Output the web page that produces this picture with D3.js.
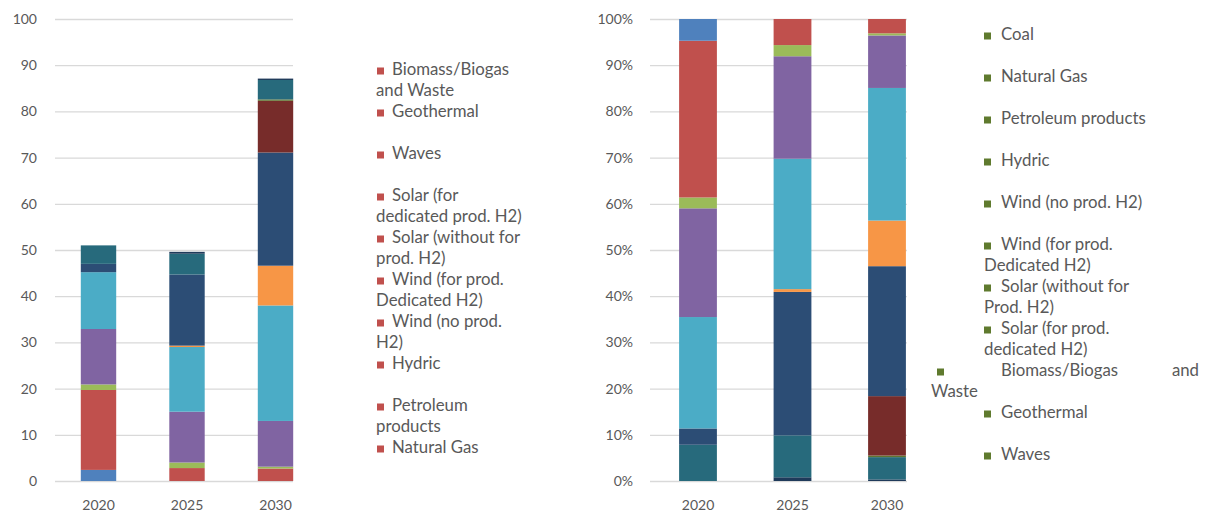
<!DOCTYPE html>
<html>
<head>
<meta charset="utf-8">
<script src="https://cdn.jsdelivr.net/npm/d3@7"></script>
<style>
  html, body { margin: 0; padding: 0; background: #ffffff; }
  svg { display: block; }
  .tick text { fill: #595959; font-family: Lato, "Open Sans", sans-serif; font-size: 14px; }
  .legend text { fill: #595959; font-family: Lato, "Liberation Sans", sans-serif; font-size: 16.8px; }
</style>
</head>
<body>
<svg id="chart" width="1211" height="513"></svg>
<script>
// Years on the horizontal axis
const years = ["2020", "2025", "2030"];

// Electricity generation by source (same units for every series)
const coal            = [2.4, 0.0, 0.0];
const naturalGas      = [17.3, 2.8, 2.7];
const petroleum       = [1.2, 1.2, 0.4];
const hydric          = [12.0, 11.0, 9.9];
const windNoH2        = [12.3, 14.0, 25.0];
const windForH2       = [0.0, 0.3, 8.6];
const solarWithoutH2  = [1.8, 15.4, 24.5];
const solarForH2      = [0.0, 0.0, 11.2];
const biomass         = [0.0, 0.0, 0.3];
const geothermal      = [4.0, 4.5, 4.2];
const waves           = [0.0, 0.4, 0.3];

// Series in stacking order (bottom to top on the absolute chart)
const seriesKeys = ["Coal", "Natural Gas", "Petroleum products", "Hydric",
  "Wind (no prod. H2)", "Wind (for prod. Dedicated H2)", "Solar (without for prod. H2)",
  "Solar (for dedicated prod. H2)", "Biomass/Biogas and Waste", "Geothermal", "Waves"];
const seriesValues = [coal, naturalGas, petroleum, hydric, windNoH2, windForH2,
  solarWithoutH2, solarForH2, biomass, geothermal, waves];
const seriesColors = ["#4f81bd", "#c0504d", "#9bbb59", "#8064a2", "#4bacc6", "#f79646",
  "#2c4d75", "#772c2a", "#5f7530", "#276a7c", "#1f3a5a"];

// Axis ticks
const absTicks = [0, 10, 20, 30, 40, 50, 60, 70, 80, 90, 100];
const pctTicks = [0, 0.1, 0.2, 0.3, 0.4, 0.5, 0.6, 0.7, 0.8, 0.9, 1.0];

// Legend entries (text lines per entry)
const leftLegend = [
  ["Biomass/Biogas", "and Waste"],
  ["Geothermal"],
  ["Waves"],
  ["Solar (for", "dedicated prod. H2)"],
  ["Solar (without for", "prod. H2)"],
  ["Wind (for prod.", "Dedicated H2)"],
  ["Wind (no prod.", "H2)"],
  ["Hydric"],
  ["Petroleum", "products"],
  ["Natural Gas"]
];
const rightLegend = [
  ["Coal"],
  ["Natural Gas"],
  ["Petroleum products"],
  ["Hydric"],
  ["Wind (no prod. H2)"],
  ["Wind (for prod.", "Dedicated H2)"],
  ["Solar (without for", "Prod. H2)"],
  ["Solar (for prod.", "dedicated H2)"],
  ["Biomass/Biogas", "Waste"],
  ["Geothermal"],
  ["Waves"]
];

const rows = years.map((y, i) => {
  const r = { year: y };
  seriesKeys.forEach((k, j) => { r[k] = seriesValues[j][i]; });
  return r;
});
const color = d3.scaleOrdinal().domain(seriesKeys).range(seriesColors);

const svg = d3.select("#chart");
const plotTop = 19, plotBottom = 481;

function drawChart(opts) {
  const g = svg.append("g");
  const x = d3.scaleBand().domain(years).range([opts.x0, opts.x1]).paddingInner(0.6).paddingOuter(0.3);
  const y = d3.scaleLinear().domain([0, opts.max]).range([plotBottom, plotTop]);

  // gridlines + value labels
  const yAxis = d3.axisLeft(y).tickValues(opts.ticks)
    .tickSizeInner(-(opts.gx1 - opts.gx0)).tickSizeOuter(0)
    .tickPadding(opts.pad).tickFormat(opts.fmt);
  const ya = g.append("g").attr("transform", `translate(${opts.gx0},0)`).call(yAxis);
  ya.select(".domain").remove();
  ya.selectAll(".tick line").attr("stroke", "#d9d9d9").attr("stroke-width", 1.3);

  // stacked bars
  const stack = d3.stack().keys(opts.keys).offset(opts.offset);
  const layers = stack(rows);
  g.selectAll("g.layer").data(layers).join("g")
    .attr("class", "layer")
    .attr("fill", d => color(d.key))
    .selectAll("rect").data(d => d).join("rect")
    .attr("x", d => x(d.data.year))
    .attr("width", x.bandwidth())
    .attr("y", d => y(d[1]))
    .attr("height", d => Math.max(0, y(d[0]) - y(d[1])));

  // category labels
  const xa = g.append("g").attr("transform", `translate(0,${plotBottom})`)
    .call(d3.axisBottom(x).tickSize(0).tickPadding(19));
  xa.select(".domain").remove();
}

// absolute stacked chart
drawChart({
  x0: 54.25, x1: 319.75, gx0: 55, gx1: 293, max: 100, ticks: absTicks,
  pad: 18, fmt: d3.format("d"), keys: seriesKeys, offset: d3.stackOffsetNone
});

// 100% stacked chart (series stacked in reverse order)
drawChart({
  x0: 650.75, x1: 934.25, gx0: 650, gx1: 907, max: 1, ticks: pctTicks,
  pad: 17, fmt: d3.format(".0%"), keys: seriesKeys.slice().reverse(), offset: d3.stackOffsetExpand
});

// legends
function drawLegend(entries, opts) {
  const lg = svg.append("g").attr("class", "legend");
  entries.forEach((lines, i) => {
    const base = opts.y0 + i * opts.step;
    const sqX = opts.sqX(i);
    lg.append("rect").attr("x", sqX).attr("y", base - 7).attr("width", 7).attr("height", 7)
      .attr("fill", opts.sq);
    lines.forEach((t, j) => {
      lg.append("text")
        .attr("x", j === 0 ? opts.textX : opts.wrapX(i))
        .attr("y", base + j * 21)
        .text(t);
    });
    if (opts.extra && opts.extra[i]) {
      lg.append("text").attr("x", opts.extra[i].x).attr("y", base)
        .attr("text-anchor", "end").text(opts.extra[i].t);
    }
  });
}

drawLegend(leftLegend, {
  y0: 74.5, step: 42, sq: "#c0504d", textX: 392,
  sqX: () => 377, wrapX: () => 376
});

drawLegend(rightLegend, {
  y0: 39.5, step: 42, sq: "#5f7a2e", textX: 1001,
  sqX: i => (i === 8 ? 937 : 984), wrapX: i => (i === 8 ? 931 : 984),
  extra: { 8: { x: 1199, t: "and" } }
});
</script>
</body>
</html>
